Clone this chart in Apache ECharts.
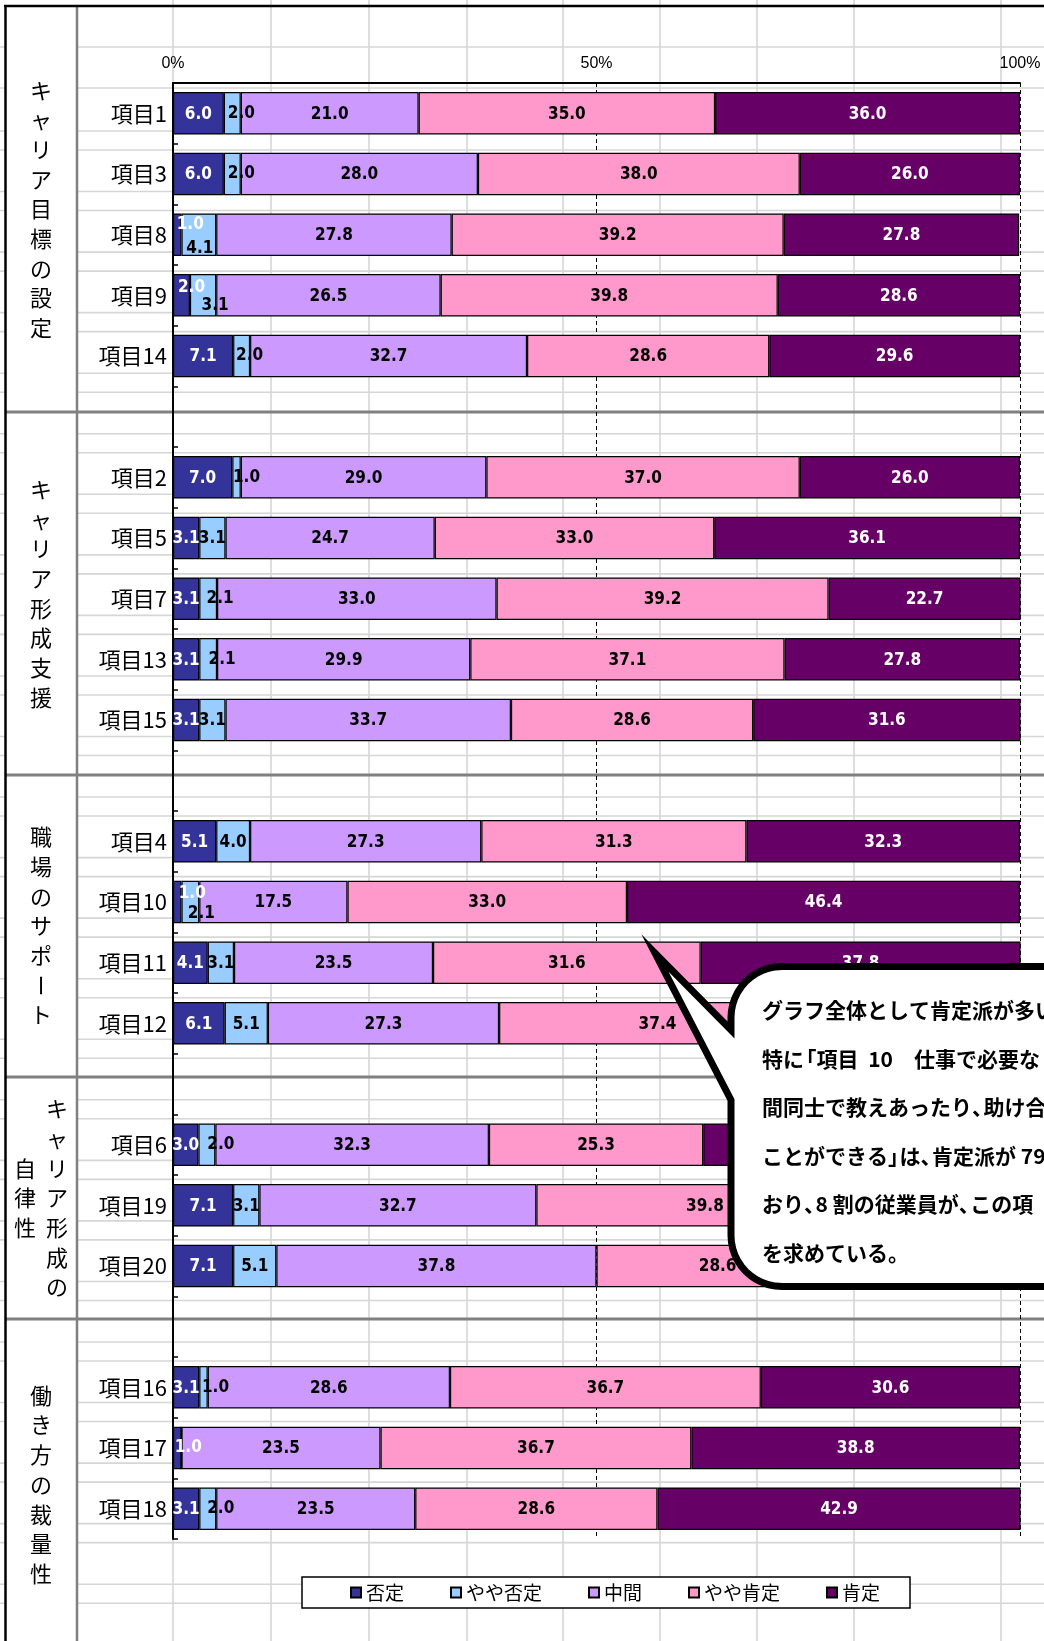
<!DOCTYPE html>
<html>
<head>
<meta charset="utf-8">
<script src="https://cdn.jsdelivr.net/npm/echarts@6/dist/echarts.min.js"></script>
<style>
  html, body { margin: 0; padding: 0; background: #fff; }
  #chart { width: 1044px; height: 1641px; }
</style>
</head>
<body>
<div id="chart"></div>
<script>
// Items, top to bottom; blank entries leave a gap between the groups.
const categories = [
  '項目1', '項目3', '項目8', '項目9', '項目14', ' ',
  '項目2', '項目5', '項目7', '項目13', '項目15', '  ',
  '項目4', '項目10', '項目11', '項目12', '   ',
  '項目6', '項目19', '項目20', '    ',
  '項目16', '項目17', '項目18'
];

// Answer shares (%) per item.
const hitei     = [6.0, 6.0, 1.0, 2.0, 7.1, null, 7.0, 3.1, 3.1, 3.1, 3.1, null, 5.1, 1.0, 4.1, 6.1, null, 3.0, 7.1, 7.1, null, 3.1, 1.0, 3.1];
const yayaHitei = [2.0, 2.0, 4.1, 3.1, 2.0, null, 1.0, 3.1, 2.1, 2.1, 3.1, null, 4.0, 2.1, 3.1, 5.1, null, 2.0, 3.1, 5.1, null, 1.0, 0, 2.0];
const chukan    = [21.0, 28.0, 27.8, 26.5, 32.7, null, 29.0, 24.7, 33.0, 29.9, 33.7, null, 27.3, 17.5, 23.5, 27.3, null, 32.3, 32.7, 37.8, null, 28.6, 23.5, 23.5];
const yayaKotei = [35.0, 38.0, 39.2, 39.8, 28.6, null, 37.0, 33.0, 39.2, 37.1, 28.6, null, 31.3, 33.0, 31.6, 37.4, null, 25.3, 39.8, 28.6, null, 36.7, 36.7, 28.6];
const kotei     = [36.0, 26.0, 27.8, 28.6, 29.6, null, 26.0, 36.1, 22.7, 27.8, 31.6, null, 32.3, 46.4, 37.8, 24.1, null, 37.4, 17.3, 21.4, null, 30.6, 38.8, 42.9];

const seriesNames = ['否定', 'やや否定', '中間', 'やや肯定', '肯定'];
const seriesValues = [hitei, yayaHitei, chukan, yayaKotei, kotei];

// Value-axis tick labels.
const tickLabels = ['0%', '50%', '100%'];

// Group headings for the left column.
const groupTitles = [
  ['キャリア目標の設定'],
  ['キャリア形成支援'],
  ['職場のサポート'],
  ['キャリア形成の', '自律性'],
  ['働き方の裁量性']
];

// Note text in the speech bubble.
const noteLines = [
  'グラフ全体として肯定派が多い',
  '特に「項目  10　仕事で必要な',
  '間同士で教えあったり、助け合',
  'ことができる」は、肯定派が 79.',
  'おり、8 割の従業員が、この項',
  'を求めている。'
];

// ---- styling ----
const seriesColors = ['#333399', '#99CCFF', '#CC99FF', '#FF99CC', '#660066'];
const labelColors = ['#ffffff', '#000000', '#000000', '#000000', '#ffffff'];
const CJK = '"Noto Sans CJK JP", "Noto Sans CJK SC", sans-serif';
const NUM = '"DejaVu Sans Condensed", "DejaVu Sans", sans-serif';

// Small segments get their value label nudged so it stays readable.
const labelNudge = {
  '項目1':  { 1: [9, 0] },
  '項目3':  { 1: [9, 0] },
  '項目8':  { 0: [13, -10], 1: [1, 14] },
  '項目9':  { 0: [10, -8], 1: [12, 10] },
  '項目14': { 1: [8, 0] },
  '項目2':  { 1: [10, 0] },
  '項目7':  { 1: [12, 0] },
  '項目13': { 1: [14, 0] },
  '項目10': { 0: [15, -8], 1: [11, 12] },
  '項目6':  { 1: [14, 0] },
  '項目16': { 1: [12, 0] },
  '項目17': { 0: [11, 0] },
  '項目18': { 1: [13, 0] }
};

// Sheet layout (left table column, rules and section dividers).
const W = 1044, H = 1641;
const colLines = [173, 271, 369, 467, 563, 660, 757, 854, 1001];
const sectionRules = [412, 775, 1077, 1319];
const sectionBounds = [6, 412, 775, 1077, 1319, 1650];

function sheetBackground() {
  const els = [];
  const grid = '#d6d6d6';
  colLines.forEach(x => els.push({
    type: 'line', z: -20, silent: true,
    shape: { x1: x, y1: 0, x2: x, y2: H },
    style: { stroke: grid, lineWidth: 1.6 }
  }));
  const rows = [47, 88];
  for (let k = 0; k < 26; k++) {
    rows.push(131 + 60.55 * k, 150 + 60.55 * k);
  }
  rows.filter(y => y < H).forEach(y => els.push({
    type: 'line', z: -20, silent: true,
    shape: { x1: 0, y1: y, x2: W, y2: y },
    style: { stroke: grid, lineWidth: 1.6 }
  }));
  // merged heading column
  els.push({
    type: 'rect', z: -19, silent: true,
    shape: { x: 6, y: 7, width: 70, height: H },
    style: { fill: '#fff' }
  });
  sectionRules.forEach(y => els.push({
    type: 'line', z: -18, silent: true,
    shape: { x1: 5, y1: y, x2: W, y2: y },
    style: { stroke: '#808080', lineWidth: 3 }
  }));
  els.push({
    type: 'line', z: -18, silent: true,
    shape: { x1: 77, y1: 6, x2: 77, y2: H },
    style: { stroke: '#808080', lineWidth: 2.5 }
  });
  els.push({
    type: 'line', z: -17, silent: true,
    shape: { x1: 5.5, y1: 6, x2: 5.5, y2: H },
    style: { stroke: '#000', lineWidth: 2.5 }
  });
  els.push({
    type: 'line', z: -17, silent: true,
    shape: { x1: 4, y1: 6, x2: W, y2: 6 },
    style: { stroke: '#000', lineWidth: 2.5 }
  });
  return els;
}

// Vertical headings: one glyph per line, columns read right to left.
function verticalHeadings() {
  const els = [];
  const pitch = 29.7;
  const colX = { 1: [41], 2: [57, 25] };
  groupTitles.forEach((cols, g) => {
    const cy = (sectionBounds[g] + sectionBounds[g + 1]) / 2;
    const xs = colX[cols.length];
    cols.forEach((txt, c) => {
      const chars = Array.from(txt);
      chars.forEach((ch, i) => {
        const y = cy + (i - (chars.length - 1) / 2) * pitch;
        els.push({
          type: 'text', z: 5, silent: true,
          x: xs[c], y: y,
          rotation: ch === 'ー' ? -Math.PI / 2 : 0,
          style: {
            text: ch, x: 0, y: 0,
            textAlign: 'center', textVerticalAlign: 'middle',
            align: 'center', verticalAlign: 'middle',
            font: 'normal 22px ' + CJK, fill: '#000'
          }
        });
      });
    });
  });
  return els;
}

// Quarter-circle corner points for the bubble outline.
function arcPoints(cx, cy, r, a0, a1, n) {
  const pts = [];
  for (let i = 0; i <= n; i++) {
    const a = a0 + (a1 - a0) * i / n;
    pts.push([cx + r * Math.cos(a), cy + r * Math.sin(a)]);
  }
  return pts;
}

// Lay out the note glyph by glyph, setting CJK punctuation half-width.
function noteText(x0, y0, lineGap, size) {
  const font = 'bold ' + size + 'px ' + CJK;
  const ctx = document.createElement('canvas').getContext('2d');
  ctx.font = font;
  const tail = '、。」），';
  const head = '「（';
  const els = [];
  noteLines.forEach((line, li) => {
    let x = x0;
    const y = y0 + li * lineGap;
    Array.from(line).forEach(ch => {
      let dx = 0, adv = ctx.measureText(ch).width;
      if (tail.indexOf(ch) >= 0) { adv = size * 0.55; }
      else if (head.indexOf(ch) >= 0) { dx = -size * 0.4; adv = size * 0.6; }
      if (ch.trim() !== '') {
        els.push({
          type: 'text', z: 101, silent: true,
          style: {
            text: ch, x: x + dx, y: y,
            textAlign: 'left', textVerticalAlign: 'middle',
            align: 'left', verticalAlign: 'middle',
            font: font, fill: '#000'
          }
        });
      }
      x += adv;
    });
  });
  return els;
}

// Speech bubble pointing at the 項目10 row.
function callout() {
  const top = 966.5, bot = 1286.5, left = 731, r = 51, far = 1100;
  let pts = [[far, top]];
  pts = pts.concat(arcPoints(left + r, top + r, r, -Math.PI / 2, -Math.PI, 12));
  pts.push([left, 1030], [655, 953], [left, 1100]);
  pts = pts.concat(arcPoints(left + r, bot - r, r, Math.PI, Math.PI / 2, 12));
  pts.push([far, bot]);
  return [
    {
      type: 'polygon', z: 100, silent: true,
      shape: { points: pts },
      style: { fill: '#fff', stroke: '#000', lineWidth: 7, lineJoin: 'miter', miterLimit: 10 }
    }
  ].concat(noteText(762, 1010, 48.6, 21));
}

const series = seriesNames.map((name, s) => ({
  name: name,
  type: 'bar',
  stack: 'total',
  barCategoryGap: '30%',
  itemStyle: { color: seriesColors[s], borderColor: '#000', borderWidth: 1.2 },
  emphasis: { disabled: true },
  label: {
    show: true,
    position: 'inside',
    color: labelColors[s],
    fontFamily: NUM,
    fontWeight: 'bold',
    fontSize: 17,
    textBorderWidth: 0,
    offset: [0, 1],
    formatter: p => (p.value == null || p.value === 0) ? '' : Number(p.value).toFixed(1)
  },
  data: seriesValues[s].map((v, i) => {
    const n = labelNudge[categories[i]] && labelNudge[categories[i]][s];
    return n ? { value: v, label: { offset: n } } : v;
  })
}));

const chart = echarts.init(document.getElementById('chart'), null, { renderer: 'canvas', width: W, height: H });

chart.setOption({
  backgroundColor: '#ffffff',
  animation: false,
  grid: { left: 173, right: 24, top: 83, bottom: 102, containLabel: false },
  legend: {
    data: seriesNames,
    left: 302, top: 1577,
    orient: 'horizontal',
    icon: 'rect',
    itemWidth: 10, itemHeight: 10, itemGap: 46,
    padding: [6, 30, 6, 48],
    borderColor: '#000', borderWidth: 1.5,
    backgroundColor: '#fff',
    selectedMode: false,
    textStyle: { fontFamily: CJK, fontSize: 19, color: '#000' }
  },
  xAxis: {
    type: 'value',
    position: 'top',
    min: 0, max: 100, interval: 50,
    axisLine: { show: true, lineStyle: { color: '#000', width: 2 } },
    axisTick: { show: false },
    axisLabel: {
      color: '#000', fontSize: 16, fontFamily: '"Liberation Sans", Arial, sans-serif', margin: 11,
      formatter: v => tickLabels[Math.round(v / 50)]
    },
    splitLine: { show: true, lineStyle: { color: '#000', width: 1, type: [4, 3] } }
  },
  yAxis: {
    type: 'category',
    inverse: true,
    data: categories,
    axisLine: { show: true, lineStyle: { color: '#000', width: 2 } },
    axisTick: { show: true, inside: true, length: 5, lineStyle: { color: '#000', width: 1.5 } },
    axisLabel: { color: '#000', fontSize: 22, fontFamily: CJK, margin: 6, interval: 0, padding: [0, 0, 6, 0] },
    splitLine: { show: false }
  },
  series: series,
  graphic: { elements: sheetBackground().concat(verticalHeadings(), callout()) }
});
</script>
</body>
</html>
